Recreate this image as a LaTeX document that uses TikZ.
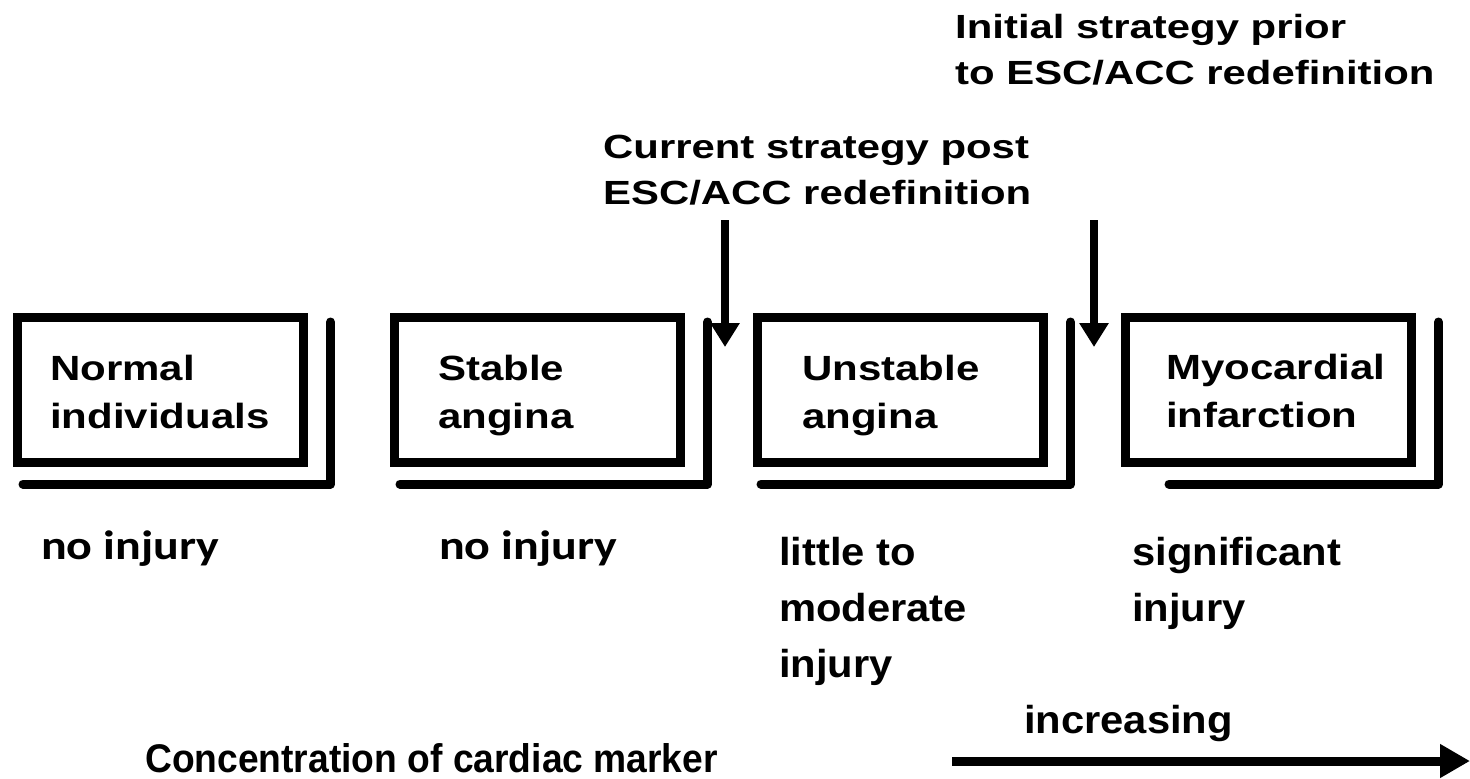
\documentclass[tikz,border=0pt]{standalone}
\usepackage{fontspec}
\newfontfamily\boxfont{Liberation Sans}[FakeStretch=1.2]
\newfontfamily\topfont{Liberation Sans}[FakeStretch=1.25]
\newfontfamily\lowfont{Liberation Sans}[FakeStretch=1.07]
\newfontfamily\axisfont{Liberation Sans}[FakeStretch=0.93]
\newfontfamily\injfont{Carlito}[FakeStretch=1.17]
\usetikzlibrary{arrows.meta}
\usetikzlibrary{positioning}

\begin{document}
\begin{tikzpicture}[x=1pt,y=-1pt,
	stagebox/.style={draw, line width=9pt, minimum width=286pt, minimum height=145pt, inner sep=0pt},
	shadowline/.style={line width=9pt, line cap=round, line join=round},
	boxtext/.style={font={\boxfont\bfseries\fontsize{35}{48}\selectfont}, align=left, inner sep=0pt},
	toptext/.style={font={\topfont\bfseries\fontsize{33.5}{46}\selectfont}, align=left, inner sep=0pt, anchor=north west},
	lowtext/.style={font={\lowfont\bfseries\fontsize{39}{56}\selectfont}, align=left, inner sep=0pt, anchor=north west},
	injtext/.style={font={\injfont\bfseries\fontsize{41}{48}\selectfont}, inner sep=0pt, anchor=base west},
	markarrow/.style={line width=8pt, -{Triangle[length=24pt,width=28pt]}}]
	
	\useasboundingbox (0,0) rectangle (1470,779);
	
	% the four stages
	\node[stagebox] (normal) at (160.5,390) {};
	\node[stagebox] (stable) at (537.5,390) {};
	\node[stagebox] (unstable) at (900.5,390) {};
	\node[stagebox] (infarct) at (1268.5,390) {};
	
	\node[boxtext, below right=42pt and 37pt of normal.north west] (normaltxt) {Normal\\individuals};
	\node[boxtext, below right=42pt and 48pt of stable.north west] (stabletxt) {Stable\\angina};
	\node[boxtext, below right=42pt and 49pt of unstable.north west] (unstabletxt) {Unstable\\angina};
	\node[boxtext, below right=41pt and 45pt of infarct.north west] (infarcttxt) {Myocardial\\infarction};
	
	% shadows
	\foreach \b/\s in {normal/10,stable/10,unstable/8,infarct/48}{
		\draw[shadowline] ([xshift=\s pt, yshift=-17pt]\b.south west) -| ([xshift=22.5pt, yshift=-9pt]\b.north east);
	}
	
	% strategies
	\node[toptext] (initial) at (955,14) {Initial strategy prior\\to ESC/ACC redefinition};
	\node[toptext] (current) at (603,135) {Current strategy post\\ESC/ACC redefinition};
	
	\coordinate (currtop) at (725,220);
	\coordinate (currcut) at (725,347);
	\coordinate (inittop) at (1094,220);
	\coordinate (initcut) at (1094,347);
	\draw[markarrow] (currtop) -- (currcut);
	\draw[markarrow] (inittop) -- (initcut);
	
	% injury
	\node[injtext] (noinj1) at (41,559) {no injury};
	\node[injtext] (noinj2) at (439,559) {no injury};
	\node[lowtext] (modinj) at (779,537.5) {little to\\moderate\\injury};
	\node[lowtext] (siginj) at (1132,537.5) {significant\\injury};
	
	% marker axis
	\node[font={\lowfont\bfseries\fontsize{39}{48}\selectfont}, inner sep=0pt, anchor=base west] (incr) at (1024,733) {increasing};
	\node[font={\axisfont\bfseries\fontsize{40}{48}\selectfont}, inner sep=0pt, anchor=base west] (conc) at (145,772) {Concentration of cardiac marker};
	\coordinate (axstart) at (952,761);
	\coordinate (axend) at (1470,761);
	\draw[line width=9pt, -{Triangle[length=30pt,width=32pt]}] (axstart) -- (axend);
\end{tikzpicture}
\end{document}
